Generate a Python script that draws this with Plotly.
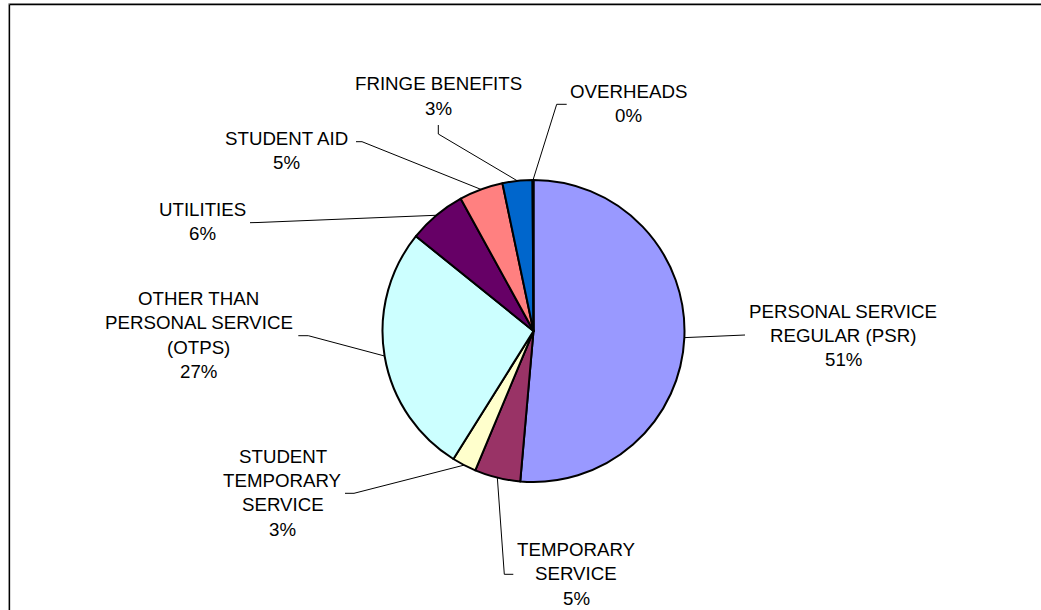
import math
import plotly.graph_objects as go

# Budget shares by expense category (percent of total)
categories = [
    "PERSONAL SERVICE\nREGULAR (PSR)",
    "TEMPORARY\nSERVICE",
    "STUDENT\nTEMPORARY\nSERVICE",
    "OTHER THAN\nPERSONAL SERVICE\n(OTPS)",
    "UTILITIES",
    "STUDENT AID",
    "FRINGE BENEFITS",
    "OVERHEADS",
]
shares = [51.4, 4.9, 2.6, 26.9, 6.2, 4.7, 3.2, 0.1]
colors = ["#9999FF", "#993366", "#FFFFCC", "#CCFFFF",
          "#660066", "#FF8080", "#0066CC", "#CCCCFF"]

# Figure geometry (pixels)
W, H = 1041, 610
CX, CY, R = 533.5, 331.0, 151.0
FONT = dict(family="Liberation Sans, Arial, sans-serif", size=18.7, color="black")
PITCH = 24.4

# Label placement: text centre x, first-line baseline y, leader bend points
label_layout = [
    dict(cx=843.0, base=317.7, bends=[(745.0, 335.0)]),
    dict(cx=576.0, base=556.0, bends=[(513.3, 574.3), (504.3, 574.3)]),
    dict(cx=282.5, base=462.7, bends=[(345.0, 493.3), (354.0, 493.3)]),
    dict(cx=198.5, base=305.0, bends=[(298.3, 335.7), (308.3, 335.7)]),
    dict(cx=202.0, base=216.0, bends=[(250.0, 222.7), (258.0, 222.5)]),
    dict(cx=286.0, base=145.0, bends=[(356.0, 141.7), (362.0, 141.7)]),
    dict(cx=438.0, base=90.5, bends=[(438.3, 125.0), (438.3, 134.0)]),
    dict(cx=628.7, base=97.7, bends=[(566.7, 104.3), (556.7, 104.3)]),
]

fig = go.Figure()

fig.add_trace(go.Pie(
    labels=[c.replace("\n", " ") for c in categories],
    values=shares,
    sort=False,
    direction="clockwise",
    rotation=0,
    marker=dict(colors=colors, line=dict(color="black", width=2)),
    textinfo="none",
    hoverinfo="label+percent",
    showlegend=False,
    domain=dict(x=[(CX - R) / W, (CX + R) / W],
                y=[(H - CY - R) / H, (H - CY + R) / H]),
))

total = sum(shares)
annotations = []
cum = 0.0
for name, val, lay in zip(categories, shares, label_layout):
    mid = (cum + val / 2) / total * 2 * math.pi
    cum += val
    ex = CX + R * math.sin(mid)
    ey = CY - R * math.cos(mid)
    xs = [p[0] for p in lay["bends"]] + [ex]
    ys = [p[1] for p in lay["bends"]] + [ey]
    fig.add_trace(go.Scatter(
        x=xs, y=ys, mode="lines",
        line=dict(color="black", width=1),
        hoverinfo="skip", showlegend=False,
    ))
    pct = int(val / total * 100 + 0.5)
    lines = name.split("\n") + [f"{pct}%"]
    for i, t in enumerate(lines):
        annotations.append(dict(
            x=lay["cx"], y=lay["base"] + i * PITCH - 6.6,
            xref="x", yref="y", text=t, showarrow=False,
            xanchor="center", yanchor="middle", font=FONT,
        ))

# Chart-area frame (top and left edges visible)
shapes = [
    dict(type="line", xref="x", yref="y", x0=8.5, y0=3.5, x1=W + 10, y1=3.5,
         line=dict(color="#b0b0b0", width=1)),
    dict(type="line", xref="x", yref="y", x0=8.5, y0=3.5, x1=8.5, y1=H + 10,
         line=dict(color="#b0b0b0", width=1)),
    dict(type="line", xref="x", yref="y", x0=9.5, y0=4.5, x1=W + 10, y1=4.5,
         line=dict(color="black", width=1.3)),
    dict(type="line", xref="x", yref="y", x0=9.5, y0=4.5, x1=9.5, y1=H + 10,
         line=dict(color="black", width=1.3)),
]

fig.update_layout(
    width=W, height=H,
    margin=dict(l=0, r=0, t=0, b=0),
    paper_bgcolor="white", plot_bgcolor="rgba(0,0,0,0)",
    xaxis=dict(range=[0, W], visible=False, fixedrange=True, domain=[0, 1]),
    yaxis=dict(range=[H, 0], visible=False, fixedrange=True, domain=[0, 1]),
    annotations=annotations,
    shapes=shapes,
    showlegend=False,
)

fig.write_html("out.html")
